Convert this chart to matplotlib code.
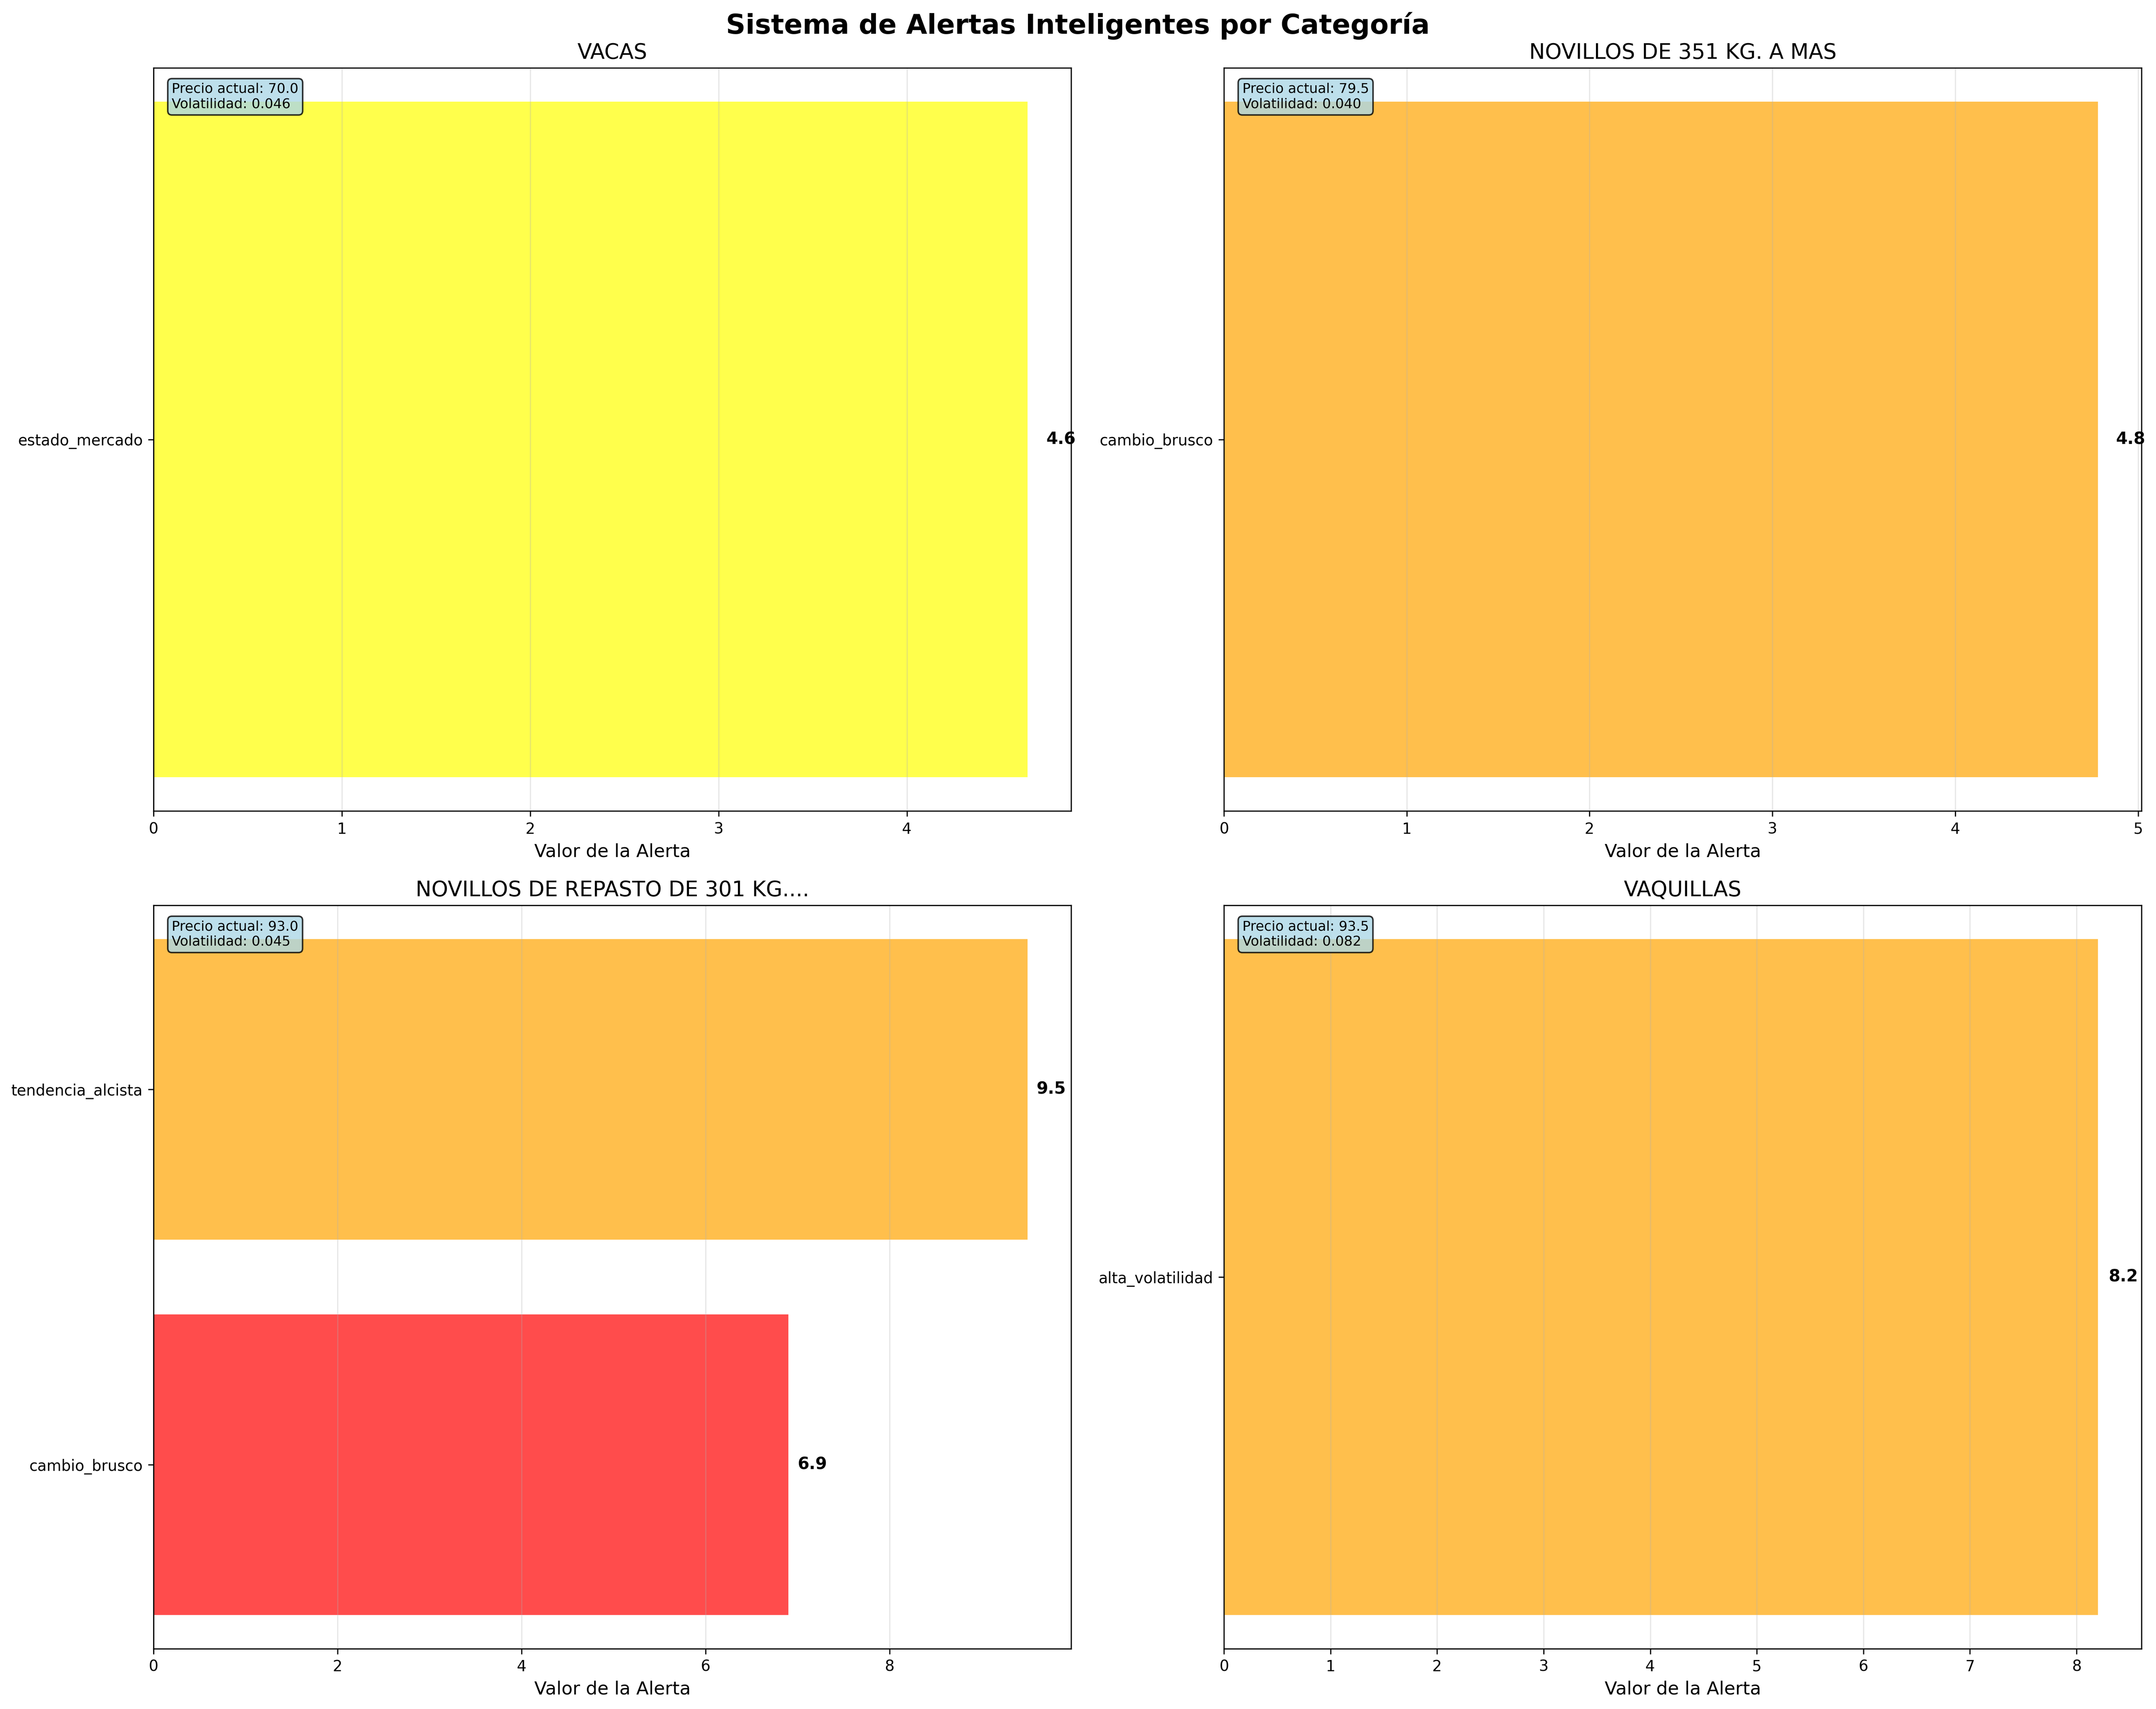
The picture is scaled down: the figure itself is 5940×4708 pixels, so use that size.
import matplotlib
matplotlib.use('Agg')
import matplotlib.pyplot as plt

# Alert data per category
categorias = ['VACAS', 'NOVILLOS DE 351 KG. A MAS', 'NOVILLOS DE REPASTO DE 301 KG....', 'VAQUILLAS']
tipos_alerta = [['estado_mercado'], ['cambio_brusco'], ['cambio_brusco', 'tendencia_alcista'], ['alta_volatilidad']]
valores_alerta = [[4.64], [4.78], [6.9, 9.5], [8.2]]
severidad = [['baja'], ['media'], ['alta', 'media'], ['media']]
precio_actual = [70.0, 79.5, 93.0, 93.5]
volatilidad = [0.046, 0.040, 0.045, 0.082]

colores_sev = {'alta': 'red', 'media': 'orange', 'baja': 'yellow'}

fig, axes = plt.subplots(2, 2, figsize=(19.8, 4708 / 300))
fig.subplots_adjust(left=0.0712, right=0.9933, top=0.9603, bottom=0.0353,
                    wspace=0.1665, hspace=0.127)
fig.suptitle('Sistema de Alertas Inteligentes por Categoría', fontsize=18,
             fontweight='bold', y=0.993)

for i, ax in enumerate(axes.flat):
    tipos = tipos_alerta[i]
    vals = valores_alerta[i]
    colors = [colores_sev[s] for s in severidad[i]]
    y = range(len(tipos))
    ax.barh(y, vals, color=colors, alpha=0.7)
    ax.set_yticks(list(y))
    ax.set_yticklabels(tipos)
    ax.set_xlabel('Valor de la Alerta', fontsize=12)
    ax.set_title(categorias[i], fontsize=14)
    ax.grid(True, alpha=0.3, axis='x')

    vmax = max(vals)
    for j, v in enumerate(vals):
        ax.text(v + 0.1, j, f'{v:.1f}', va='center', fontweight='bold', fontsize=11)
    ax.set_xlim(0, vmax * 1.05)

    info = f'Precio actual: {precio_actual[i]:.1f}\nVolatilidad: {volatilidad[i]:.3f}'
    ax.text(0.02, 0.98, info, transform=ax.transAxes, va='top', fontsize=9,
            bbox=dict(boxstyle='round', facecolor='lightblue', alpha=0.8))

plt.savefig('out.png', dpi=300)
